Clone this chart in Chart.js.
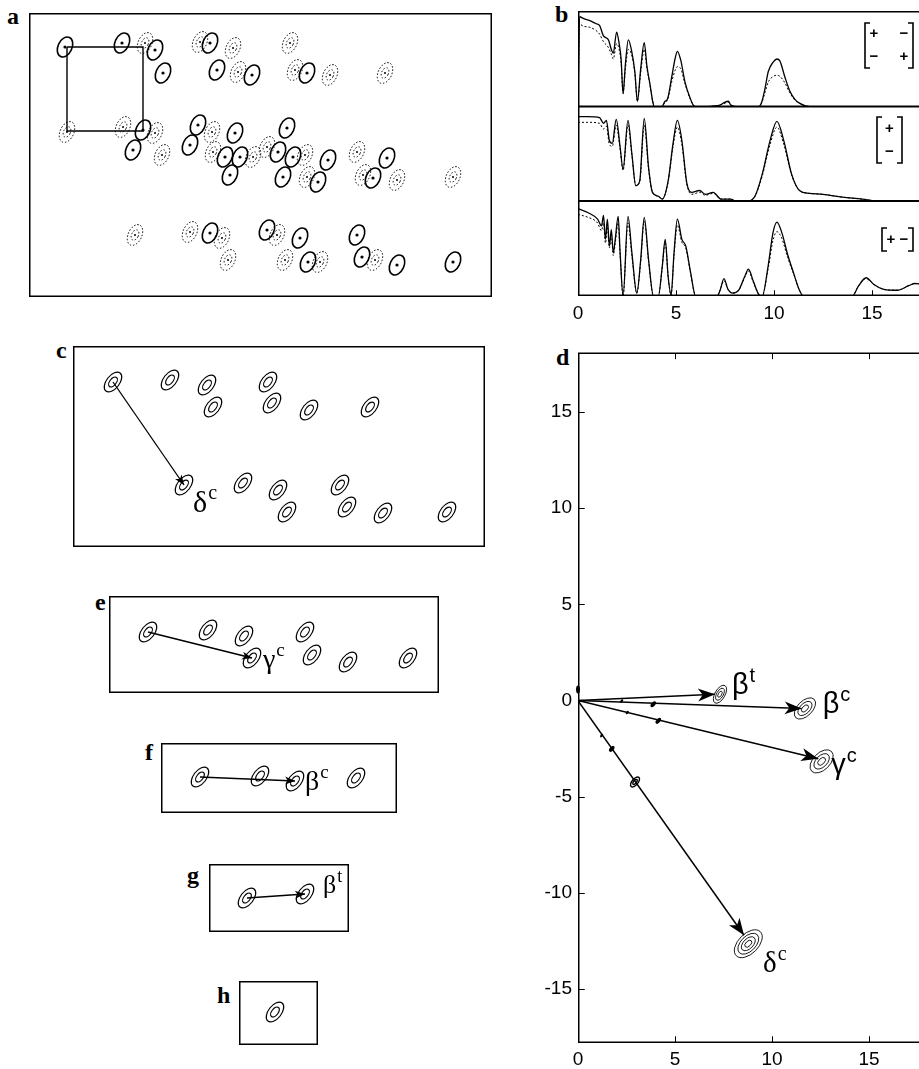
<!DOCTYPE html>
<html>
<head>
<meta charset="utf-8">
<title>Peak vectors</title>
<script src="https://cdn.jsdelivr.net/npm/chart.js@4.4.1/dist/chart.umd.min.js"></script>
<style>
  body { margin: 0; background: #fff; }
  #page { position: relative; width: 919px; height: 1069px; overflow: hidden; background: #fff; }
  canvas { position: absolute; }
  .tag { position: absolute; font: bold 24px "Liberation Serif", "DejaVu Serif", serif; line-height: 24px; color: #000; }
</style>
</head>
<body>
<div id="page">
  <div class="tag" style="left:7px;top:4px">a</div>
  <div class="tag" style="left:555px;top:2px">b</div>
  <div class="tag" style="left:56px;top:338px">c</div>
  <div class="tag" style="left:556px;top:345px">d</div>
  <div class="tag" style="left:95px;top:590px">e</div>
  <div class="tag" style="left:145px;top:740px">f</div>
  <div class="tag" style="left:187px;top:863px">g</div>
  <div class="tag" style="left:217px;top:983px">h</div>

  <canvas id="chartA" width="463" height="284" style="left:29px;top:13px"></canvas>
  <canvas id="chartB1" width="359" height="96" style="left:560px;top:11px"></canvas>
  <canvas id="chartB2" width="359" height="96" style="left:560px;top:106px"></canvas>
  <canvas id="chartB3" width="359" height="127" style="left:560px;top:200px"></canvas>
  <canvas id="chartC" width="412" height="201" style="left:73px;top:346px"></canvas>
  <canvas id="chartD" width="389" height="734" style="left:530px;top:335px"></canvas>
  <canvas id="chartE" width="330" height="97" style="left:109px;top:596px"></canvas>
  <canvas id="chartF" width="236" height="70" style="left:161px;top:743px"></canvas>
  <canvas id="chartG" width="140" height="68" style="left:209px;top:864px"></canvas>
  <canvas id="chartH" width="79" height="64" style="left:239px;top:981px"></canvas>
</div>
<script>
'use strict';

// ---------- panel a : full spectrum, solid / dotted peaks ----------
const aSolidX = [3.6, 9.3, 12.6, 13.4, 18.1, 18.8, 22.3, 27.8,
    11.4, 10.4, 16.9, 16.1, 20.6, 19.6, 21.1, 20.1, 25.8, 24.9, 26.4, 25.4, 29.9, 28.9, 35.8, 34.4,
    18.1, 23.8, 27.1, 27.9, 32.8, 33.3, 36.8, 42.4];
const aSolidY = [3.4, 3.0, 3.7, 6.0, 3.0, 5.7, 6.2, 6.0,
    11.7, 13.7, 11.2, 13.2, 12.0, 14.4, 14.4, 16.2, 11.5, 13.9, 14.4, 16.4, 14.7, 16.9, 14.5, 16.5,
    22.0, 21.7, 22.5, 24.9, 22.2, 24.4, 25.2, 24.9];
const aDotX = [11.6, 17.1, 20.4, 26.1, 20.9, 26.6, 30.1, 35.6,
    3.8, 9.4, 12.6, 13.3, 18.3, 18.4, 22.4, 23.8, 27.6, 27.8, 32.8, 33.4, 36.8, 42.4,
    10.6, 16.1, 19.3, 19.9, 24.8, 25.6, 29.1, 34.6];
const aDotY = [3.0, 2.9, 3.5, 3.0, 5.9, 5.7, 6.2, 6.0,
    11.9, 11.4, 12.0, 14.2, 11.9, 13.9, 14.4, 13.4, 14.2, 16.4, 13.9, 16.2, 16.7, 16.4,
    22.2, 21.9, 22.5, 24.7, 22.2, 24.7, 24.9, 24.7];
const aBoxX = [3.8, 11.4, 11.4, 3.8, 3.8];
const aBoxY = [3.4, 3.4, 11.8, 11.8, 3.4];

// ---------- panel b : three projections ----------
const bTicks = [0, 5, 10, 15];
const b1X = [0.0, 0.08, 0.3, 0.6, 0.9, 1.1, 1.3, 1.55, 1.7, 1.8, 1.97, 2.1, 2.2, 2.3, 2.42, 2.57, 2.74, 2.9, 3.03, 3.2,
    3.38, 3.52, 3.67, 3.81, 3.9, 4.27, 4.44, 4.56, 4.78, 4.95, 5.07, 5.24, 5.46, 5.71, 5.88, 6.05, 6.4, 6.9, 7.24, 7.5,
    7.67, 7.8, 8.2, 9.2, 9.37, 9.54, 9.71, 9.97, 10.15, 10.3, 10.56, 10.8, 11.07, 11.3, 11.65, 12.5, 17.6];
const b1Solid = [0, 0.94, 0.92, 0.9, 0.87, 0.85, 0.74, 0.70, 0.60, 0.56, 0.78, 0.66, 0.5, 0.14, 0.45, 0.70, 0.58, 0.37, 0.06, 0.4,
    0.67, 0.42, 0.24, 0.06, 0, 0, 0.06, 0.08, 0.31, 0.5, 0.58, 0.49, 0.26, 0.10, 0.02, 0, 0, 0.01, 0.02, 0.05,
    0.06, 0.02, 0, 0, 0.05, 0.19, 0.37, 0.47, 0.5, 0.48, 0.31, 0.17, 0.08, 0.04, 0.01, 0, 0];
const b1Dot = [0, 0.86, 0.84, 0.83, 0.8, 0.76, 0.68, 0.62, 0.55, 0.5, 0.66, 0.6, 0.46, 0.14, 0.4, 0.6, 0.54, 0.35, 0.06, 0.36,
    0.6, 0.4, 0.23, 0.06, 0, 0, 0.05, 0.07, 0.26, 0.38, 0.42, 0.4, 0.24, 0.09, 0.02, 0, 0, 0.01, 0.02, 0.04,
    0.05, 0.02, 0, 0, 0.04, 0.15, 0.26, 0.32, 0.33, 0.32, 0.25, 0.15, 0.07, 0.04, 0.01, 0, 0];

const b2X = [0, 0.5, 1.1, 1.3, 1.45, 1.6, 1.75, 1.95, 2.15, 2.3, 2.55, 2.75, 2.95, 3.15, 3.38, 3.6, 3.8, 4.1, 4.3, 4.6,
    4.85, 5.07, 5.3, 5.55, 5.8, 6.2, 6.5, 6.9, 7.3, 7.8, 8.0, 8.5, 9.0, 9.4, 9.8, 10.15, 10.5, 10.9, 11.3, 11.8,
    12.5, 13.5, 14.5, 15.2, 15.8, 17.6];
const b2Solid = [0.89, 0.89, 0.88, 0.82, 0.85, 0.64, 0.61, 0.86, 0.57, 0.34, 0.85, 0.5, 0.17, 0.22, 0.87, 0.36, 0.1, 0.06, 0.03, 0.22,
    0.61, 0.85, 0.64, 0.2, 0.1, 0.12, 0.08, 0.1, 0.03, 0.03, 0.01, 0, 0.05, 0.29, 0.64, 0.84, 0.64, 0.29, 0.12, 0.09,
    0.08, 0.05, 0.03, 0.01, 0, 0];
const b2Dot = [0.83, 0.83, 0.82, 0.76, 0.79, 0.6, 0.58, 0.8, 0.55, 0.33, 0.8, 0.49, 0.17, 0.21, 0.8, 0.35, 0.1, 0.06, 0.03, 0.21,
    0.58, 0.78, 0.6, 0.19, 0.08, 0.1, 0.07, 0.09, 0.03, 0.03, 0.01, 0, 0.05, 0.27, 0.6, 0.78, 0.6, 0.28, 0.12, 0.09,
    0.08, 0.05, 0.03, 0.01, 0, 0];

const b3X = [0, 0.5, 1.0, 1.2, 1.3, 1.4, 1.5, 1.6, 1.7, 1.8, 1.9, 2.05, 2.15, 2.3, 2.55, 2.75, 3.0, 3.2, 3.38, 3.6,
    3.85, 4.1, 4.3, 4.45, 4.6, 4.75, 4.9, 5.07, 5.3, 5.5, 5.75, 6.0, 7.1, 7.25, 7.45, 7.65, 7.9, 8.2, 8.5, 8.7,
    8.95, 9.25, 9.4, 9.7, 9.95, 10.15, 10.4, 10.7, 11.0, 11.3, 11.5, 14.0, 14.3, 14.7, 15.1, 15.6, 16.3, 16.9, 17.2, 17.6];
const b3Solid = [0.91, 0.87, 0.8, 0.73, 0.84, 0.59, 0.8, 0.52, 0.69, 0.45, 0.59, 0.83, 0.45, 0, 0.83, 0.45, 0.03, 0.38, 0.82, 0.38,
    0, 0, 0.31, 0.59, 0.2, 0.01, 0.45, 0.8, 0.59, 0.52, 0.24, 0, 0, 0.06, 0.18, 0.07, 0.03, 0.06, 0.2, 0.28,
    0.15, 0.01, 0, 0.31, 0.66, 0.77, 0.66, 0.43, 0.24, 0.06, 0, 0, 0.1, 0.19, 0.12, 0.07, 0.06, 0.11, 0.13, 0.12];
const b3Dot = [0.85, 0.82, 0.76, 0.68, 0.76, 0.55, 0.72, 0.5, 0.63, 0.42, 0.55, 0.76, 0.42, 0, 0.76, 0.42, 0.03, 0.36, 0.78, 0.36,
    0, 0, 0.3, 0.56, 0.2, 0.01, 0.42, 0.74, 0.56, 0.5, 0.23, 0, 0, 0.06, 0.16, 0.07, 0.03, 0.06, 0.19, 0.26,
    0.14, 0.01, 0, 0.28, 0.58, 0.67, 0.6, 0.4, 0.23, 0.06, 0, 0, 0.1, 0.18, 0.12, 0.07, 0.06, 0.11, 0.13, 0.12];

// sign patterns shown at the right of each projection
const bLegend = [[['+', '\u2212'], ['\u2212', '+']], [['+'], ['\u2212']], [['+', '\u2212']]];

// ---------- panels c, e, f, g, h : sub-spectra ----------
const cPeakX = [4.0, 9.7, 13.4, 19.5, 14.0, 19.9, 23.6, 29.7, 11.1, 17.0, 20.5, 26.7, 21.4, 27.4, 31.0, 37.4];
const cPeakY = [3.6, 3.4, 3.9, 3.6, 6.1, 5.7, 6.4, 6.1, 13.9, 13.7, 14.4, 13.9, 16.6, 16.1, 16.7, 16.6];
const ePeakX = [3.9, 9.9, 13.5, 19.6, 14.3, 20.3, 23.9, 29.9];
const ePeakY = [3.6, 3.4, 4.0, 3.6, 6.2, 5.9, 6.6, 6.2];
const fPeakX = [3.9, 9.9, 13.4, 19.5];
const fPeakY = [3.4, 3.3, 3.8, 3.5];
const gPeakX = [3.8, 9.6];
const gPeakY = [3.4, 3.0];
const hPeakX = [3.6];
const hPeakY = [3.1];

// ---------- panel d : shift vectors ----------
const dTicks = [-15, -10, -5, 0, 5, 10, 15];
const dNames = ['\u03b2', '\u03b2', '\u03b3', '\u03b4'];
const dSups = ['t', 'c', 'c', 'c'];
const dTipX = [7.06, 11.53, 12.39, 8.56];
const dTipY = [0.33, -0.41, -3.02, -12.2];
const dPeakX = [7.32, 11.70, 12.56, 8.78];
const dPeakY = [0.33, -0.41, -3.16, -12.64];
const dMarkX = [3.88, 2.25, 4.14, 2.54, 1.74, 2.94, 1.22, 0.0];
const dMarkY = [-0.19, -0.02, -1.05, -0.62, -2.51, -4.23, -1.82, 0.58];

// ---------- styles ----------
Chart.defaults.font.family = '"Liberation Sans", Arial, sans-serif';
Chart.defaults.color = '#000';
Chart.defaults.responsive = false;
Chart.defaults.animation = false;
Chart.defaults.events = [];
Chart.defaults.plugins.legend.display = false;
Chart.defaults.plugins.tooltip.enabled = false;

const solidPeak = { a: 10.5, b: 7, rot: 25, rings: 1, lw: 1.6, dot: 1.6 };
const dottedPeak = { a: 11, b: 6.8, rot: 25, rings: 2, lw: 1, dash: [1.5, 1.8], dot: 1 };
const cellPeak = { a: 11.5, b: 6.5, rot: 38, rings: 2, lw: 1.2 };
const dTipStyle = [
    { a: 10, b: 5, rot: 30, rings: 3, lw: 0.9 },
    { a: 13, b: 7.5, rot: 45, rings: 3, lw: 0.9 },
    { a: 14, b: 8.5, rot: 45, rings: 3, lw: 0.9 },
    { a: 17, b: 10, rot: 45, rings: 4, lw: 0.9 }
];
const dMarkStyle = [
    { a: 3.5, b: 2, rot: 40, fill: true }, { a: 2, b: 1.2, rot: 40, fill: true },
    { a: 3.5, b: 2, rot: 40, fill: true }, { a: 2, b: 1.2, rot: 40, fill: true },
    { a: 3.5, b: 2, rot: 40, fill: true }, { a: 6, b: 3, rot: 40, rings: 2, lw: 1.4 },
    { a: 2, b: 1.2, rot: 40, fill: true }, { a: 4, b: 2, rot: 0, fill: true }
];
const dTagPos = [[17, 0], [21, 5], [13, 15], [19, 37]];
const dTagFont = ['"Liberation Sans"', '"Liberation Sans"', '"Liberation Sans"', '"Liberation Serif"'];

function pts(xs, ys) {
    return xs.map((x, i) => ({ x: x, y: ys[i] }));
}

function drawPeak(ctx, x, y, s) {
    ctx.save();
    ctx.strokeStyle = '#000';
    ctx.fillStyle = '#000';
    ctx.lineWidth = s.lw || 1;
    ctx.setLineDash(s.dash || []);
    const n = s.rings || 1;
    const rot = (s.rot || 0) * Math.PI / 180;
    for (let k = 0; k < n; k++) {
        const f = (n - k) / n;
        ctx.beginPath();
        ctx.ellipse(x, y, s.b * f, s.a * f, rot, 0, Math.PI * 2);
        if (s.fill) ctx.fill(); else ctx.stroke();
    }
    if (s.dot) {
        ctx.setLineDash([]);
        ctx.beginPath();
        ctx.arc(x, y, s.dot, 0, Math.PI * 2);
        ctx.fill();
    }
    ctx.restore();
}

function drawHead(ctx, p0, p1, len, half) {
    const ang = Math.atan2(p1.y - p0.y, p1.x - p0.x);
    ctx.save();
    ctx.fillStyle = '#000';
    ctx.translate(p1.x, p1.y);
    ctx.rotate(ang);
    ctx.beginPath();
    ctx.moveTo(0, 0);
    ctx.lineTo(-len, -half);
    ctx.lineTo(-len * 0.72, 0);
    ctx.lineTo(-len, half);
    ctx.closePath();
    ctx.fill();
    ctx.restore();
}

function drawTag(ctx, x, y, t) {
    ctx.save();
    ctx.fillStyle = '#000';
    ctx.textAlign = 'left';
    ctx.textBaseline = 'alphabetic';
    ctx.font = t.size + 'px ' + t.family;
    ctx.fillText(t.base, x, y);
    const w = ctx.measureText(t.base).width;
    ctx.font = Math.round(t.size * 0.68) + 'px ' + t.family;
    ctx.fillText(t.sup, x + w + 1, y - t.size * 0.42);
    ctx.restore();
}

// peaks, arrow heads and labels on top of the datasets
const marks = {
    id: 'marks',
    afterDatasetsDraw(chart) {
        const ctx = chart.ctx;
        chart.data.datasets.forEach((ds, i) => {
            const els = chart.getDatasetMeta(i).data;
            if (ds.peak) {
                els.forEach((el, j) => drawPeak(ctx, el.x, el.y, Array.isArray(ds.peak) ? ds.peak[j] : ds.peak));
            }
            if (ds.arrow && els.length > 1) {
                const p0 = els[els.length - 2], p1 = els[els.length - 1];
                drawHead(ctx, p0, p1, ds.arrow.len, ds.arrow.half);
                if (ds.tag) drawTag(ctx, p1.x + ds.tag.dx, p1.y + ds.tag.dy, ds.tag);
            }
        });
    }
};

function makeFrame(cfg) {
    return {
        id: 'frame',
        afterDraw(chart) {
            const ctx = chart.ctx, a = chart.chartArea;
            const l = a.left + 0.75, r = a.right - 0.75, t = a.top + 0.75, b = a.bottom - 0.75;
            ctx.save();
            ctx.strokeStyle = '#000';
            ctx.lineWidth = 1.5;
            ctx.beginPath();
            if (cfg.right) {
                ctx.rect(l, t, r - l, b - t);
            } else {
                ctx.moveTo(r + 2, t); ctx.lineTo(l, t); ctx.lineTo(l, b); ctx.lineTo(r + 2, b);
            }
            ctx.stroke();
            ctx.lineWidth = 1;
            ctx.beginPath();
            if (cfg.xTicks) {
                const sx = chart.scales.x;
                sx.ticks.forEach(tk => {
                    const px = Math.round(sx.getPixelForValue(tk.value)) + 0.5;
                    if (px < a.left + 2) return;
                    ctx.moveTo(px, b); ctx.lineTo(px, b - cfg.xTicks);
                    if (cfg.topTicks) { ctx.moveTo(px, t); ctx.lineTo(px, t + cfg.xTicks); }
                });
            }
            if (cfg.yTicks) {
                const sy = chart.scales.y;
                sy.ticks.forEach(tk => {
                    const py = Math.round(sy.getPixelForValue(tk.value)) + 0.5;
                    ctx.moveTo(l, py); ctx.lineTo(l + cfg.yTicks, py);
                });
            }
            ctx.stroke();
            if (cfg.legend) drawBrackets(ctx, a, cfg.legend);
            ctx.restore();
        }
    };
}

// matrix brackets with +/- signs (legend of panel b)
function drawBrackets(ctx, a, lg) {
    const R = a.right, T = a.top;
    const x0 = R - lg.l, x1 = R - lg.r, y0 = T + lg.t, y1 = T + lg.b;
    ctx.save();
    ctx.strokeStyle = '#000';
    ctx.lineWidth = 1.6;
    ctx.beginPath();
    ctx.moveTo(x0 + 5, y0); ctx.lineTo(x0, y0); ctx.lineTo(x0, y1); ctx.lineTo(x0 + 5, y1);
    ctx.moveTo(x1 - 5, y0); ctx.lineTo(x1, y0); ctx.lineTo(x1, y1); ctx.lineTo(x1 - 5, y1);
    ctx.stroke();
    ctx.fillStyle = '#000';
    ctx.font = 'bold 15px "Liberation Sans"';
    ctx.textAlign = 'center';
    ctx.textBaseline = 'middle';
    const rows = lg.signs, nr = rows.length;
    rows.forEach((row, i) => {
        const y = nr === 1 ? (y0 + y1) / 2 : y0 + (y1 - y0) * (i + 0.5) / nr;
        row.forEach((s, j) => {
            const nc = row.length;
            const x = nc === 1 ? (x0 + x1) / 2 : x0 + 9 + (x1 - x0 - 18) * j / (nc - 1);
            ctx.fillText(s, x, y);
        });
    });
    ctx.restore();
}

function boxOptions(w, h) {
    return {
        layout: { padding: 0 },
        scales: {
            x: { type: 'linear', display: false, min: 0, max: w },
            y: { type: 'linear', display: false, min: 0, max: h, reverse: true }
        }
    };
}

const boxFrame = makeFrame({ right: true });

// ---------- panel a ----------
new Chart(document.getElementById('chartA'), {
    type: 'scatter',
    data: {
        datasets: [
            { data: pts(aBoxX, aBoxY), showLine: true, borderColor: '#000', borderWidth: 1.4, pointRadius: 0 },
            { data: pts(aSolidX, aSolidY), pointRadius: 0, peak: solidPeak },
            { data: pts(aDotX, aDotY), pointRadius: 0, peak: dottedPeak }
        ]
    },
    options: boxOptions(46.3, 28.4),
    plugins: [boxFrame, marks]
});

// ---------- panel b ----------
function projChart(id, xs, solid, dotted, legend, showAxis) {
    const sets = [
        { data: pts(xs, dotted), showLine: true, borderColor: '#000', borderWidth: 1, borderDash: [2, 2],
          pointRadius: 0, cubicInterpolationMode: 'monotone' },
        { data: pts(xs, solid), showLine: true, borderColor: '#000', borderWidth: 1.3,
          pointRadius: 0, cubicInterpolationMode: 'monotone' }
    ];
    const xScale = {
        type: 'linear', min: 0, max: 17.4, display: showAxis,
        grid: { display: false, drawTicks: false },
        border: { display: false },
        ticks: {
            stepSize: 5, includeBounds: false, padding: 6, maxRotation: 0,
            font: { size: 19 },
            callback: v => bTicks.includes(v) ? String(v) : ''
        }
    };
    if (showAxis) xScale.afterFit = s => { s.height = 31; };
    return new Chart(document.getElementById(id), {
        type: 'scatter',
        data: { datasets: sets },
        options: {
            layout: { padding: { left: 18, right: 0, top: 0, bottom: 0 } },
            scales: {
                x: xScale,
                y: { type: 'linear', min: 0, max: 1, display: false }
            }
        },
        plugins: [makeFrame({ xTicks: showAxis ? 5 : 0, legend: legend }), marks]
    });
}

projChart('chartB1', b1X, b1Solid, b1Dot, { l: 54, r: 6, t: 12, b: 57, signs: bLegend[0] }, false);
projChart('chartB2', b2X, b2Solid, b2Dot, { l: 42, r: 17, t: 11, b: 57, signs: bLegend[1] }, false);
projChart('chartB3', b3X, b3Solid, b3Dot, { l: 37, r: 6, t: 28, b: 51, signs: bLegend[2] }, true);

// ---------- panels c, e, f, g, h ----------
function cellChart(id, w, h, xs, ys, arrow, tag) {
    const peaks = pts(xs, ys);
    const sets = [{ data: peaks, pointRadius: 0, peak: cellPeak }];
    if (arrow) {
        sets.push({
            data: [peaks[arrow[0]], peaks[arrow[1]]], showLine: true, borderColor: '#000', borderWidth: 1.3,
            pointRadius: 0, arrow: { len: 10, half: 4 }, tag: tag
        });
    }
    return new Chart(document.getElementById(id), {
        type: 'scatter',
        data: { datasets: sets },
        options: boxOptions(w, h),
        plugins: [boxFrame, marks]
    });
}

const serif = '"Liberation Serif", "DejaVu Serif", serif';
cellChart('chartC', 41.2, 20.1, cPeakX, cPeakY, [0, 8], { base: '\u03b4', sup: 'c', dx: 9, dy: 27, size: 30, family: serif });
cellChart('chartE', 33.0, 9.7, ePeakX, ePeakY, [0, 4], { base: '\u03b3', sup: 'c', dx: 11, dy: 10, size: 28, family: serif });
cellChart('chartF', 23.6, 7.0, fPeakX, fPeakY, [0, 2], { base: '\u03b2', sup: 'c', dx: 10, dy: 9, size: 28, family: serif });
cellChart('chartG', 14.0, 6.8, gPeakX, gPeakY, [0, 1], { base: '\u03b2', sup: 't', dx: 18, dy: -1, size: 26, family: serif });
cellChart('chartH', 7.9, 6.4, hPeakX, hPeakY, null, null);

// ---------- panel d ----------
const dSets = dTipX.map((x, i) => ({
    data: [{ x: 0, y: 0 }, { x: x, y: dTipY[i] }],
    showLine: true, borderColor: '#000', borderWidth: 1.5, pointRadius: 0,
    arrow: { len: 17, half: 6.5 },
    tag: { base: dNames[i], sup: dSups[i], dx: dTagPos[i][0], dy: dTagPos[i][1], size: 29, family: dTagFont[i] }
}));
dSets.push({ data: pts(dPeakX, dPeakY), pointRadius: 0, peak: dTipStyle });
dSets.push({ data: pts(dMarkX, dMarkY), pointRadius: 0, peak: dMarkStyle });

new Chart(document.getElementById('chartD'), {
    type: 'scatter',
    data: { datasets: dSets },
    options: {
        layout: { padding: { top: 12, right: 0, left: 0, bottom: 0 } },
        scales: {
            x: {
                type: 'linear', min: 0, max: 17.58,
                grid: { display: false, drawTicks: false },
                border: { display: false },
                ticks: {
                    stepSize: 5, includeBounds: false, padding: 5, maxRotation: 0,
                    font: { size: 19 },
                    callback: v => bTicks.includes(v) ? String(v) : ''
                },
                afterFit: s => { s.height = 26; }
            },
            y: {
                type: 'linear', min: -17.8, max: 18.1,
                grid: { display: false, drawTicks: false },
                border: { display: false },
                ticks: {
                    stepSize: 5, includeBounds: false, padding: 6,
                    font: { size: 19 },
                    callback: v => dTicks.includes(v) ? String(v) : ''
                },
                afterFit: s => { s.width = 48; }
            }
        }
    },
    plugins: [makeFrame({ xTicks: 6, topTicks: true, yTicks: 6 }), marks]
});
</script>
</body>
</html>
